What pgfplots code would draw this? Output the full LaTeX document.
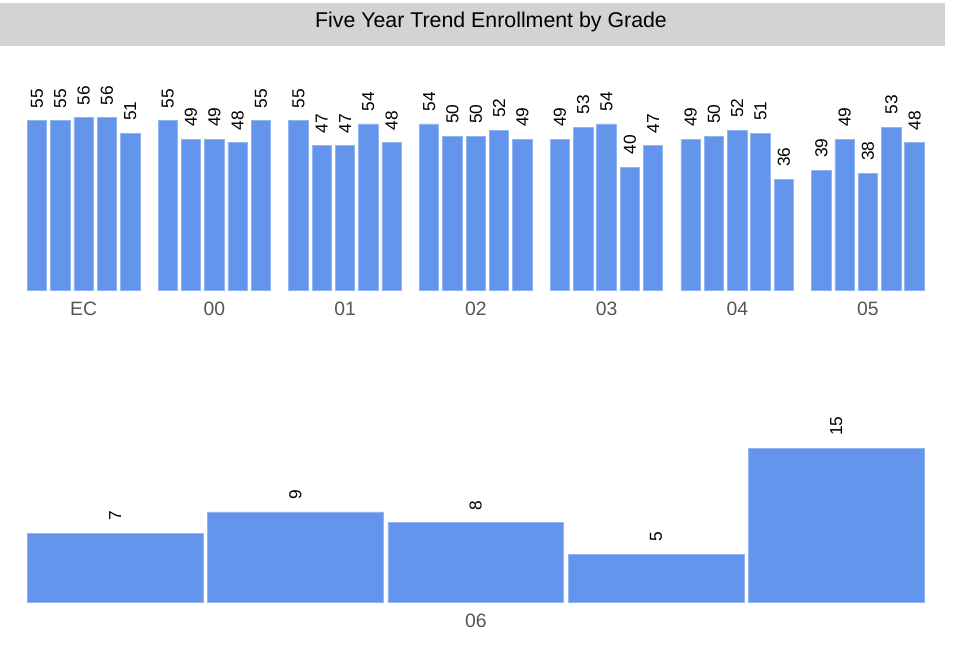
\documentclass[border=0pt]{standalone}
\usepackage{fontspec}
\setmainfont{Liberation Sans}
\usepackage{pgfplots}
\pgfplotsset{compat=1.18}
\definecolor{barfill}{RGB}{100,149,237}
\definecolor{baredge}{RGB}{145,180,243}
\definecolor{band}{RGB}{211,211,211}
\definecolor{lab}{RGB}{85,85,85}
\begin{document}
\begin{tikzpicture}
\path[use as bounding box] (0,0) rectangle (720.75pt,-489.75pt);
\fill[band] (0,-2.25pt) rectangle (708.75pt,-34.3pt);
\node[anchor=base, inner sep=0pt, font=\fontsize{16}{19}\selectfont] at (368.25pt,-20.6pt) {Five Year Trend Enrollment by Grade};
\pgfplotsset{panel/.style={
  scale only axis, width=720.75pt, xmin=0, xmax=961,
  axis line style={draw=none}, tick style={draw=none}, ytick=\empty,
  anchor=south west, ybar, clip=true,
  /pgf/number format/assume math mode=true,
  xticklabel style={font=\fontsize{14.5}{17}\selectfont, text=lab, anchor=base, yshift=-14.75pt},
  nodes near coords,
  every node near coord/.append style={rotate=90, anchor=west, inner xsep=9pt, inner ysep=0pt, font=\fontsize{13}{15}\selectfont, text=black},
}}
\begin{axis}[panel, at={(0pt,-217.5pt)}, height=172.5pt, ymin=0, ymax=74.8, bar width=19.4,
  xtick={83.6,214.33,345.06,475.79,606.52,737.25,867.98},
  xticklabels={EC,00,01,02,03,04,05}]
\addplot[fill=barfill, draw=baredge, line width=0.6pt] coordinates {
(37.0,55) (60.3,55) (83.6,56) (106.9,56) (130.2,51)
(167.73,55) (191.03,49) (214.33,49) (237.63,48) (260.93,55)
(298.46,55) (321.76,47) (345.06,47) (368.36,54) (391.66,48)
(429.19,54) (452.49,50) (475.79,50) (499.09,52) (522.39,49)
(559.92,49) (583.22,53) (606.52,54) (629.82,40) (653.12,47)
(690.65,49) (713.95,50) (737.25,52) (760.55,51) (783.85,36)
(821.38,39) (844.68,49) (867.98,38) (891.28,53) (914.58,48)
};
\end{axis}
\begin{axis}[panel, at={(0pt,-451.725pt)}, height=151.725pt, ymin=0.47, ymax=19.56, bar width=175.7,
  xtick={475.75}, xticklabels={06}]
\addplot[fill=barfill, draw=baredge, line width=0.6pt] coordinates {
(115.15,7) (295.45,9) (475.75,8) (656.05,5) (836.35,15)
};
\end{axis}
\end{tikzpicture}
\end{document}
